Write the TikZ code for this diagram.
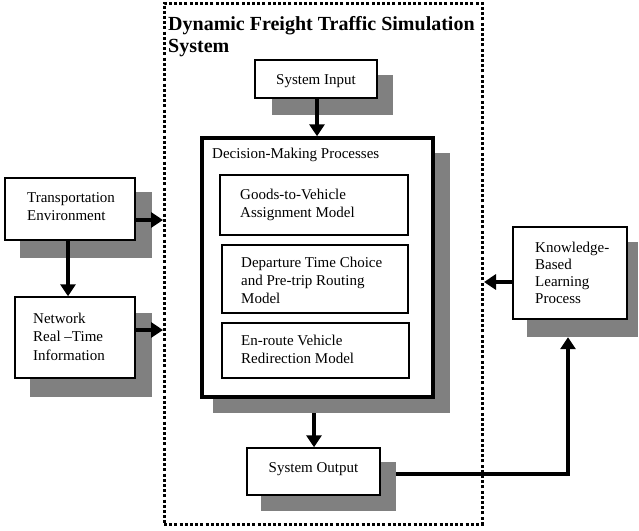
\documentclass[tikz,border=0pt]{standalone}
\usepackage{fontspec}
\setmainfont{Liberation Serif}
\usetikzlibrary{arrows.meta}
\tikzset{
  shadowbox/.style={fill={rgb,255:red,128;green,128;blue,128}, draw=none, inner sep=0pt},
  box/.style={draw=black, fill=white, line width=1.5pt, inner sep=0pt},
  thickbox/.style={draw=black, fill=white, line width=3.5pt, inner sep=0pt},
  txt/.style={inner sep=0pt, align=left, anchor=base west, font=\fontsize{15}{18}\selectfont},
  ctxt/.style={inner sep=0pt, anchor=base, font=\fontsize{15}{18}\selectfont},
  outerbox/.style={draw=black, line width=3pt, dash pattern=on 3pt off 2.2pt, inner sep=0pt},
  flow/.style={line width=4pt, -{Triangle[width=15pt,length=12pt]}},
  plainline/.style={line width=4pt}
}
\begin{document}
\begin{tikzpicture}[x=1pt,y=-1pt]
\useasboundingbox (0,0) rectangle (639,530);
% outer system boundary
\node[outerbox, minimum width=318pt, minimum height=521pt] (outer) at (323,263.5) {};
\node[inner sep=0pt, align=left, anchor=base west, font=\fontsize{20}{22}\bfseries\selectfont] (title) at (168,52) {Dynamic Freight Traffic Simulation\\System};
% shadows
\node[shadowbox, minimum width=121pt, minimum height=40pt] (sysinsh) at (332.5,95) {};
\node[shadowbox, minimum width=237pt, minimum height=260pt] (dmsh) at (331.5,283) {};
\node[shadowbox, minimum width=135pt, minimum height=49pt] (sysoutsh) at (328.5,486.5) {};
\node[shadowbox, minimum width=132pt, minimum height=66pt] (transsh) at (86,225) {};
\node[shadowbox, minimum width=122pt, minimum height=84pt] (netsh) at (91,355) {};
\node[shadowbox, minimum width=111pt, minimum height=95pt] (knowsh) at (582.5,289.5) {};
% boxes
\node[box, minimum width=122pt, minimum height=38pt] (sysin) at (316,79) {};
\node[ctxt] (sysintxt) at (316,84) {System Input};
\node[thickbox, minimum width=231pt, minimum height=259pt] (dm) at (317.5,267.5) {};
\node[txt] (dmtxt) at (212,158) {Decision-Making Processes};
\node[box, minimum width=188pt, minimum height=60pt] (g1) at (314,205) {};
\node[txt] (g1txt) at (240,217) {Goods-to-Vehicle\\Assignment Model};
\node[box, minimum width=186pt, minimum height=68pt] (g2) at (315,279) {};
\node[txt] (g2txt) at (241,303) {Departure Time Choice\\and Pre-trip Routing\\Model};
\node[box, minimum width=187pt, minimum height=55pt] (g3) at (315.5,350.5) {};
\node[txt] (g3txt) at (241,363) {En-route Vehicle\\Redirection Model};
\node[box, minimum width=133pt, minimum height=47pt] (sysout) at (313.5,471.5) {};
\node[ctxt] (sysouttxt) at (313.5,472) {System Output};
\node[box, minimum width=130pt, minimum height=62pt] (trans) at (70,209) {};
\node[txt] (transtxt) at (27,220) {Transportation\\Environment};
\node[box, minimum width=120pt, minimum height=81pt] (net) at (75,337.5) {};
\node[txt, font=\fontsize{15}{18.5}\selectfont] (nettxt) at (33,360) {Network\\Real \textendash Time\\Information};
\node[box, minimum width=114pt, minimum height=92pt] (know) at (570,273) {};
\node[txt, font=\fontsize{15}{17}\selectfont] (knowtxt) at (535,303) {Knowledge-\\Based\\Learning\\Process};
% connectors
\coordinate (inL1) at (163,220);
\coordinate (inL2) at (163,330);
\coordinate (inR) at (484,282);
\coordinate (turn) at (568,474);
\draw[flow] (sysin.south -| 317,0) -- (dm.north -| 317,0);
\draw[flow] (dmsh.south -| 314,0) -- (sysout.north -| 314,0);
\draw[flow] (trans.east |- inL1) -- (inL1);
\draw[flow] (trans.south -| 68,0) -- (net.north -| 68,0);
\draw[flow] (net.east |- inL2) -- (inL2);
\draw[flow] (know.west |- inR) -- (inR);
\draw[plainline] (sysoutsh.east |- turn) -- (turn);
\draw[flow] ([yshift=-2pt]turn) -- (knowsh.south -| turn);
\end{tikzpicture}
\end{document}
